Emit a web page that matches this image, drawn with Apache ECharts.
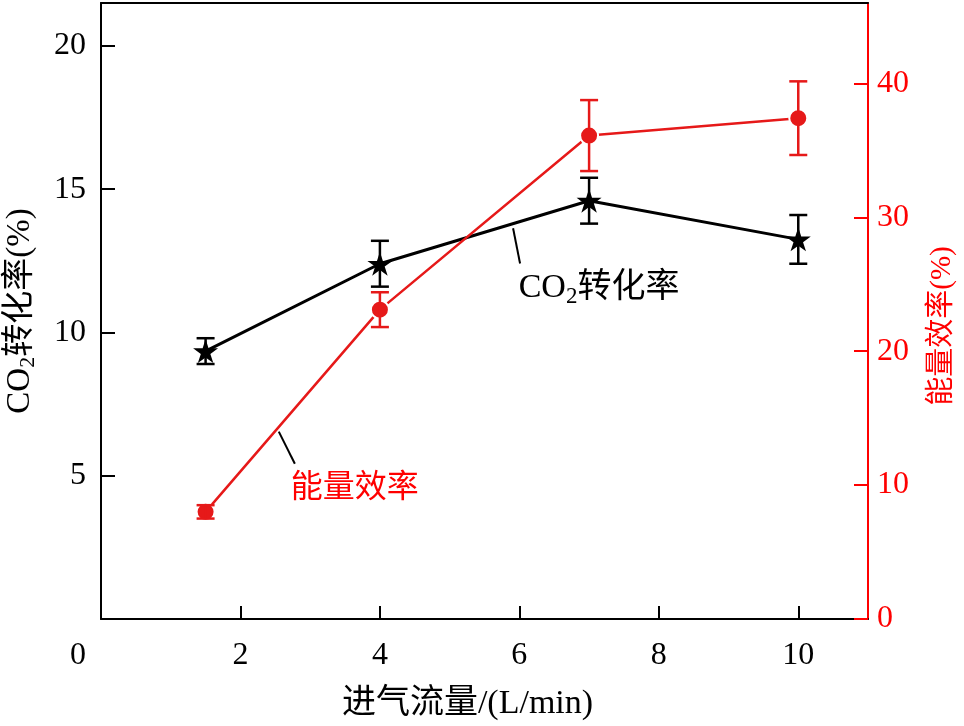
<!DOCTYPE html>
<html>
<head>
<meta charset="utf-8">
<script src="https://cdn.jsdelivr.net/npm/echarts@6/dist/echarts.min.js"></script>
<style>html,body{margin:0;padding:0;background:#fff;}#c{width:964px;height:726px;}</style>
</head>
<body>
<div id="c"></div>
<script>
var flow = [1.5, 4, 7, 10];
var co2Conv = [9.35, 12.4, 14.6, 13.25];
var co2Err = [0.45, 0.8, 0.8, 0.85];
var energyEff = [8.0, 23.1, 36.1, 37.4];
var energyErr = [0.5, 1.3, 2.65, 2.75];
var xTicks = [2, 4, 6, 8, 10];
var leftTicks = [5, 10, 15, 20];
var rightTicks = [0, 10, 20, 30, 40];

var FONT = '"Liberation Serif", "Noto Sans CJK SC", serif';
var RED_AXIS = '#ff0000';
var RED = '#e61919';
var STAR = 'path://M0,-1 L0.2245,-0.309 L0.951,-0.309 L0.363,0.118 L0.588,0.809 L0,0.382 L-0.588,0.809 L-0.363,0.118 L-0.951,-0.309 L-0.2245,-0.309 Z';

function pairs(xs, ys) { return xs.map(function (x, i) { return [x, ys[i]]; }); }
function errData(xs, ys, es) { return xs.map(function (x, i) { return [x, ys[i] - es[i], ys[i] + es[i]]; }); }

function errRender(color) {
  return function (params, api) {
    var lo = api.coord([api.value(0), api.value(1)]);
    var hi = api.coord([api.value(0), api.value(2)]);
    var w = 9;
    var st = { stroke: color, lineWidth: 2.5 };
    return {
      type: 'group',
      children: [
        { type: 'line', shape: { x1: lo[0], y1: lo[1], x2: hi[0], y2: hi[1] }, style: st },
        { type: 'line', shape: { x1: lo[0] - w, y1: lo[1], x2: lo[0] + w, y2: lo[1] }, style: st },
        { type: 'line', shape: { x1: hi[0] - w, y1: hi[1], x2: hi[0] + w, y2: hi[1] }, style: st }
      ]
    };
  };
}

var chart = echarts.init(document.getElementById('c'), null, { renderer: 'canvas' });
var option = {
  animation: false,
  backgroundColor: '#fff',
  grid: { left: 101, right: 96, top: 3, bottom: 107, containLabel: false, outerBoundsMode: 'none' },
  xAxis: [{
    type: 'value', min: 0, max: 11, position: 'bottom',
    axisLine: { show: true, lineStyle: { color: '#000', width: 2 } },
    axisTick: { show: true, inside: true, length: 13, lineStyle: { color: '#000', width: 2 }, customValues: xTicks },
    axisLabel: { show: true, margin: 21, color: '#000', fontFamily: FONT, fontSize: 32, customValues: xTicks },
    splitLine: { show: false },
    name: '进气流量/(L/min)', nameLocation: 'middle', nameGap: 68,
    nameTextStyle: { color: '#000', fontFamily: FONT, fontSize: 34, padding: [0, 34, 0, 0] }
  }, {
    type: 'value', min: 0, max: 11, position: 'top',
    axisLine: { show: true, onZero: false, lineStyle: { color: '#000', width: 2 } },
    axisTick: { show: false }, axisLabel: { show: false }, splitLine: { show: false }
  }],
  yAxis: [{
    type: 'value', min: 0, max: 21.5, position: 'left',
    axisLine: { show: true, onZero: false, lineStyle: { color: '#000', width: 2 } },
    axisTick: { show: true, inside: true, length: 14, lineStyle: { color: '#000', width: 2 }, customValues: leftTicks },
    axisLabel: { show: true, margin: 15, color: '#000', fontFamily: FONT, fontSize: 32, customValues: leftTicks },
    splitLine: { show: false },
    name: 'CO{sub|2}转化率(%)', nameLocation: 'middle', nameGap: 62, nameRotate: 90,
    nameTextStyle: {
      color: '#000', fontFamily: FONT, fontSize: 33,
      rich: { sub: { fontFamily: FONT, fontSize: 22, verticalAlign: 'bottom', padding: [16, 0, 0, 0], color: '#000' } }
    }
  }, {
    type: 'value', min: 0, max: 46, position: 'right',
    axisLine: { show: true, onZero: false, lineStyle: { color: RED_AXIS, width: 2 } },
    axisTick: { show: true, inside: true, length: 14, lineStyle: { color: RED_AXIS, width: 2 }, customValues: rightTicks },
    axisLabel: { show: true, margin: 9, color: RED_AXIS, fontFamily: FONT, fontSize: 32, customValues: rightTicks },
    splitLine: { show: false },
    name: '能量效率(%)', nameLocation: 'middle', nameGap: 60, nameRotate: 90,
    nameTextStyle: { color: RED_AXIS, fontFamily: FONT, fontSize: 29, padding: [0, 30, 0, 0] }
  }],
  series: [{
    type: 'line', name: 'CO2', xAxisIndex: 0, yAxisIndex: 0,
    data: pairs(flow, co2Conv),
    lineStyle: { color: '#000', width: 3 },
    itemStyle: { color: '#000' },
    symbol: STAR, symbolSize: [25, 24], z: 3
  }, {
    type: 'custom', xAxisIndex: 0, yAxisIndex: 0,
    data: errData(flow, co2Conv, co2Err),
    renderItem: errRender('#000'), z: 4,
    encode: { x: 0, y: [1, 2] }
  }, {
    type: 'line', name: 'EE', xAxisIndex: 0, yAxisIndex: 1,
    data: pairs(flow, energyEff),
    lineStyle: { color: RED, width: 2.5 },
    itemStyle: { color: RED, borderColor: '#fff', borderWidth: 2 },
    symbol: 'circle', symbolSize: 18, z: 3
  }, {
    type: 'custom', xAxisIndex: 0, yAxisIndex: 1,
    data: errData(flow, energyEff, energyErr),
    renderItem: errRender(RED), z: 4,
    encode: { x: 0, y: [1, 2] }
  }]
};
chart.setOption(option);

// annotations positioned in data space (left axis)
function px(x, y) { return chart.convertToPixel({ xAxisIndex: 0, yAxisIndex: 0 }, [x, y]); }
var a1 = px(5.91, 13.64), a2 = px(6.01, 12.41), t1 = px(5.99, 11.54);
var b1 = px(2.55, 6.54), b2 = px(2.78, 5.42), t2 = px(2.72, 4.55), o = px(0, 0);
chart.setOption({
  graphic: [
    { type: 'line', shape: { x1: a1[0], y1: a1[1], x2: a2[0], y2: a2[1] }, style: { stroke: '#000', lineWidth: 2 } },
    { type: 'text', x: t1[0], y: t1[1], style: {
        text: 'CO{sub|2}转化率', fill: '#000', font: '34px ' + FONT, verticalAlign: 'middle', align: 'left',
        rich: { sub: { fontFamily: FONT, fontSize: 23, padding: [18, 0, 0, 0], fill: '#000' } }
      } },
    { type: 'line', shape: { x1: b1[0], y1: b1[1], x2: b2[0], y2: b2[1] }, style: { stroke: '#000', lineWidth: 2 } },
    { type: 'text', x: t2[0], y: t2[1], style: { text: '能量效率', fill: RED_AXIS, font: '32px ' + FONT, verticalAlign: 'middle', align: 'left' } },
    { type: 'text', x: o[0] - 23, y: o[1] + 37, style: { text: '0', fill: '#000', font: '32px ' + FONT, verticalAlign: 'middle', align: 'center' } }
  ]
});
</script>
</body>
</html>
